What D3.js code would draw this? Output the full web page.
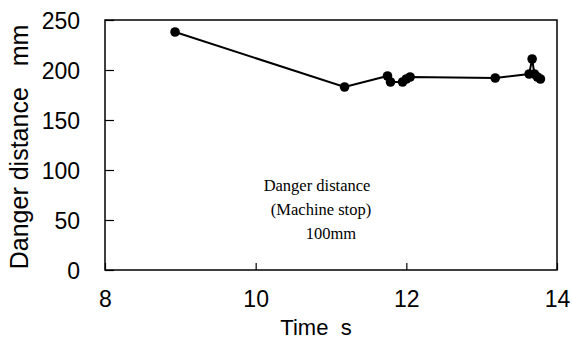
<!DOCTYPE html>
<html><head><meta charset="utf-8">
<script src="https://cdn.jsdelivr.net/npm/d3@7"></script>
<style>body{margin:0;background:#fff}svg{display:block}</style>
</head><body>
<svg id="c" width="572" height="345"></svg>
<script>
const times = [8.93, 11.18, 11.75, 11.79, 11.95, 12.0, 12.05, 13.18, 13.63, 13.67, 13.70, 13.74, 13.78];
const distances = [238, 183, 194, 188, 188, 191, 193, 192, 196, 211, 196, 193, 191];
const xTicks = [8, 10, 12, 14];
const yTicks = [0, 50, 100, 150, 200, 250];
const annotation = ["Danger distance", "(Machine stop)", "100mm"];

const svg = d3.select("#c");
const L = 105, R = 557, T = 20, B = 270;
const x = d3.scaleLinear().domain([8, 14]).range([L, R]);
const y = d3.scaleLinear().domain([0, 250]).range([B, T]);
const sans = "Liberation Sans, Arial, sans-serif";

// frame
svg.append("rect").attr("x", L).attr("y", T).attr("width", R - L).attr("height", B - T)
  .attr("fill", "none").attr("stroke", "#000").attr("stroke-width", 1.5);

// y axis
const ya = svg.append("g").attr("transform", `translate(${L},0)`)
  .call(d3.axisLeft(y).tickValues(yTicks).tickFormat(d3.format("d")).tickSizeInner(-9).tickSizeOuter(0).tickPadding(25));
ya.select(".domain").remove();
ya.selectAll("line").attr("stroke", "#000").attr("stroke-width", 1.2);
ya.selectAll("text").attr("font-family", sans).attr("font-size", 23).attr("fill", "#000").attr("dy", "0.36em");

// x axis
const xa = svg.append("g").attr("transform", `translate(0,${B})`)
  .call(d3.axisBottom(x).tickValues(xTicks).tickFormat(d3.format("d")).tickSizeInner(-7).tickSizeOuter(0).tickPadding(21));
xa.select(".domain").remove();
xa.selectAll("line").attr("stroke", "#000").attr("stroke-width", 1.2);
xa.selectAll("text").attr("font-family", sans).attr("font-size", 23).attr("fill", "#000");

// line
const pts = times.map((t, i) => [t, distances[i]]);
svg.append("path").datum(pts)
  .attr("d", d3.line().x(d => x(d[0])).y(d => y(d[1])))
  .attr("fill", "none").attr("stroke", "#000").attr("stroke-width", 2);
svg.selectAll("circle.p").data(pts).join("circle")
  .attr("cx", d => x(d[0])).attr("cy", d => y(d[1])).attr("r", 4.8).attr("fill", "#000");

// titles
svg.append("text").attr("x", 316).attr("y", 335).attr("text-anchor", "middle")
  .attr("font-family", sans).attr("font-size", 22)
  .style("white-space", "pre").text("Time  s");
svg.append("text").attr("transform", "translate(28,147) rotate(-90)").attr("text-anchor", "middle")
  .attr("font-family", sans).attr("font-size", 25)
  .style("white-space", "pre").text("Danger distance   mm");

// annotation
const ann = svg.append("text").attr("font-family", "Liberation Serif, Times New Roman, serif").attr("font-size", 16.5).attr("fill", "#000");
const ax = [317, 321, 331];
annotation.forEach((s, i) => {
  ann.append("tspan").attr("x", ax[i]).attr("y", 191 + i * 24).attr("text-anchor", "middle").text(s);
});
</script>
</body></html>
